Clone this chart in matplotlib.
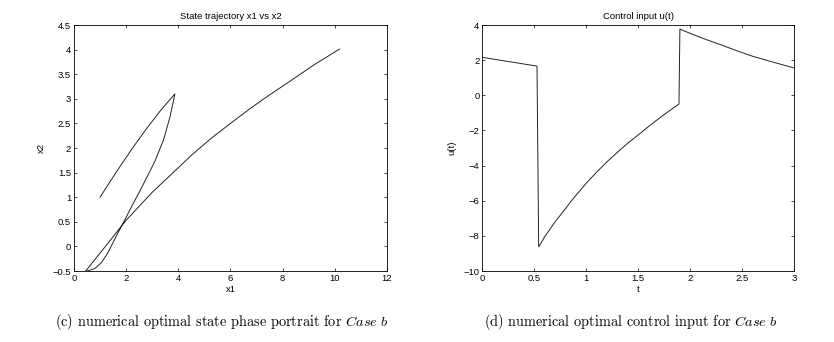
#   Two-panel figure: state phase portrait (x1 vs x2) and control input u(t) for Case b

import matplotlib
matplotlib.use('Agg')
from matplotlib import pyplot as plt

#   phase trajectory, in path order
x1 = [1.0, 1.4, 1.76, 2.3, 2.79, 3.3, 3.87,
      3.68, 3.43, 3.11, 2.81, 2.53, 2.21, 1.96, 1.66, 1.28, 1.05, 0.8, 0.51,
      0.45, 1.28, 1.98, 3.0, 3.68, 4.5, 5.22, 6.0, 6.75, 7.5, 8.29, 9.2, 10.18]
x2 = [1.0, 1.33, 1.62, 2.04, 2.40, 2.75, 3.10,
      2.63, 2.16, 1.74, 1.42, 1.13, 0.81, 0.55, 0.25, -0.15, -0.33, -0.45, -0.5,
      -0.5, 0.05, 0.52, 1.1, 1.44, 1.85, 2.18, 2.5, 2.8, 3.08, 3.36, 3.69, 4.01]

#   control input
t = [0, 0.526, 0.542, 0.6, 0.7, 0.8, 0.862, 0.9, 1.0, 1.1, 1.2, 1.3, 1.4, 1.5,
     1.6, 1.7, 1.8, 1.891,
     1.90, 2.0, 2.158, 2.3, 2.478, 2.6, 2.8, 3.0]
u = [2.16, 1.66, -8.63, -8.05, -7.2, -6.45, -5.97, -5.7, -5.0, -4.37, -3.78,
     -3.24, -2.72, -2.25, -1.77, -1.31, -0.88, -0.5,
     3.77, 3.52, 3.16, 2.86, 2.47, 2.22, 1.88, 1.55]

x1_ticks = [0, 2, 4, 6, 8, 10, 12]
x2_ticks = [-0.5, 0, 0.5, 1, 1.5, 2, 2.5, 3, 3.5, 4, 4.5]
t_ticks = [0, 0.5, 1, 1.5, 2, 2.5, 3]
u_ticks = [-10, -8, -6, -4, -2, 0, 2, 4]

plt.rcParams['font.family'] = ['Liberation Sans', 'DejaVu Sans']
plt.rcParams['mathtext.fontset'] = 'cm'


def fmt(v):
    s = ('%g' % v)
    return s.replace('-', '\u2212')


fig = plt.figure(figsize=(8.34, 3.42), dpi=100)
ax1 = fig.add_axes([0.0887, 0.2076, 0.3753, 0.7193])
ax2 = fig.add_axes([0.5783, 0.2076, 0.3741, 0.7193])

ax1.plot(x1, x2, color='#222222', linewidth=0.7)
ax1.set_xlim(0, 12)
ax1.set_ylim(-0.5, 4.5)
ax1.set_xticks(x1_ticks)
ax1.set_xticklabels([fmt(v) for v in x1_ticks])
ax1.set_yticks(x2_ticks)
ax1.set_yticklabels([fmt(v) for v in x2_ticks])
ax1.set_title('State trajectory x1 vs x2', fontsize=6.8, pad=4)
ax1.set_xlabel('x1', fontsize=6.8, labelpad=1.5)
ax1.set_ylabel('x2', fontsize=6.8, labelpad=5)

ax2.plot(t, u, color='#222222', linewidth=0.7)
ax2.set_xlim(0, 3)
ax2.set_ylim(-10, 4)
ax2.set_xticks(t_ticks)
ax2.set_xticklabels([fmt(v) for v in t_ticks])
ax2.set_yticks(u_ticks)
ax2.set_yticklabels([fmt(v) for v in u_ticks])
ax2.set_title('Control input u(t)', fontsize=6.8, pad=4)
ax2.set_xlabel('t', fontsize=6.8, labelpad=1.5)
ax2.set_ylabel('u(t)', fontsize=6.8, labelpad=5)

for ax in (ax1, ax2):
    ax.tick_params(direction='in', top=True, right=True, length=2.5, width=0.5,
                   labelsize=6.8, pad=2)
    for sp in ax.spines.values():
        sp.set_linewidth(0.6)

#   captions below each panel
fig.text(222 / 834, 1 - 322 / 342, r'(c) numerical optimal state phase portrait for $Case\ b$',
         family='cmr10', fontsize=10.3, ha='center', va='center')
fig.text(630.7 / 834, 1 - 322 / 342, r'(d) numerical optimal control input for $Case\ b$',
         family='cmr10', fontsize=10.3, ha='center', va='center')

plt.savefig('out.png', dpi=100)
